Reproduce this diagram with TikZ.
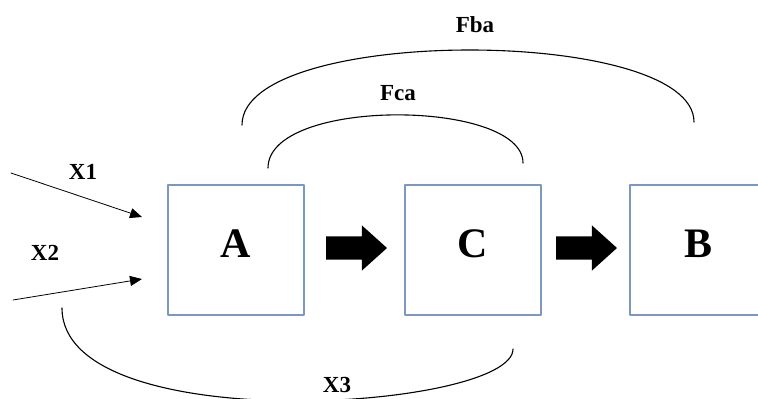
\documentclass[tikz,border=0pt]{standalone}
\usepackage{fontspec}
\setmainfont{Liberation Serif}
\usetikzlibrary{arrows.meta}
\usetikzlibrary{shapes.arrows}
\definecolor{boxblue}{RGB}{122,152,192}

\begin{document}
\begin{tikzpicture}[line cap=round,line join=round,>={Triangle[length=12pt,width=10pt]},x=1pt,y=-1pt,
	box/.style={draw=boxblue,line width=1.5pt,minimum width=136pt,minimum height=130pt,inner sep=0pt,text depth=12pt,font=\fontsize{42}{42}\selectfont\bfseries},
	lbl/.style={font=\fontsize{23}{23}\selectfont\bfseries},
	fat/.style={single arrow,fill=black,inner sep=11.5pt,minimum height=61pt,single arrow head extend=11pt,single arrow tip angle=84},
	curve/.style={line width=1.1pt}]

		\clip (0,0) rectangle (758,399);

		%laatikot
		\node[box] (A) at (236,250) {A};
		\node[box] (C) at (473,250) {C};
		\node[box] (B) at (698,250) {B};

		%paksut nuolet
		\node[fat] (arrAC) at (350,248) {};
		\node[fat] (arrCB) at (580,248) {};

		%syotteet
		\coordinate (x1s) at (11,173);
		\coordinate (x1e) at (142,217);
		\coordinate (x2s) at (13,300);
		\coordinate (x2e) at (142,279);
		\draw[->,line width=0.8pt] (x1s)--(x1e);
		\draw[->,line width=0.8pt] (x2s)--(x2e);
		\node[lbl] (lx1) at (83,172) {X1};
		\node[lbl] (lx2) at (45,253) {X2};

		%kaaret
		\coordinate (fca1) at (268,168);
		\coordinate (fca2) at (523,163);
		\draw[curve] (fca1) .. controls (268,97) and (523,99) .. (fca2);
		\node[lbl] (lfca) at (398,93) {Fca};

		\coordinate (fba1) at (242,125);
		\coordinate (fba2) at (694,122);
		\draw[curve] (fba1) .. controls (242,25) and (694,26) .. (fba2);
		\node[lbl] (lfba) at (475,25) {Fba};

		\coordinate (x3s) at (62,308);
		\coordinate (x3e) at (513,349);
		\draw[curve] (x3s) .. controls (62,440) and (513,410) .. (x3e);
		\node[lbl] (lx3) at (337,385) {X3};

	\end{tikzpicture}
\end{document}
